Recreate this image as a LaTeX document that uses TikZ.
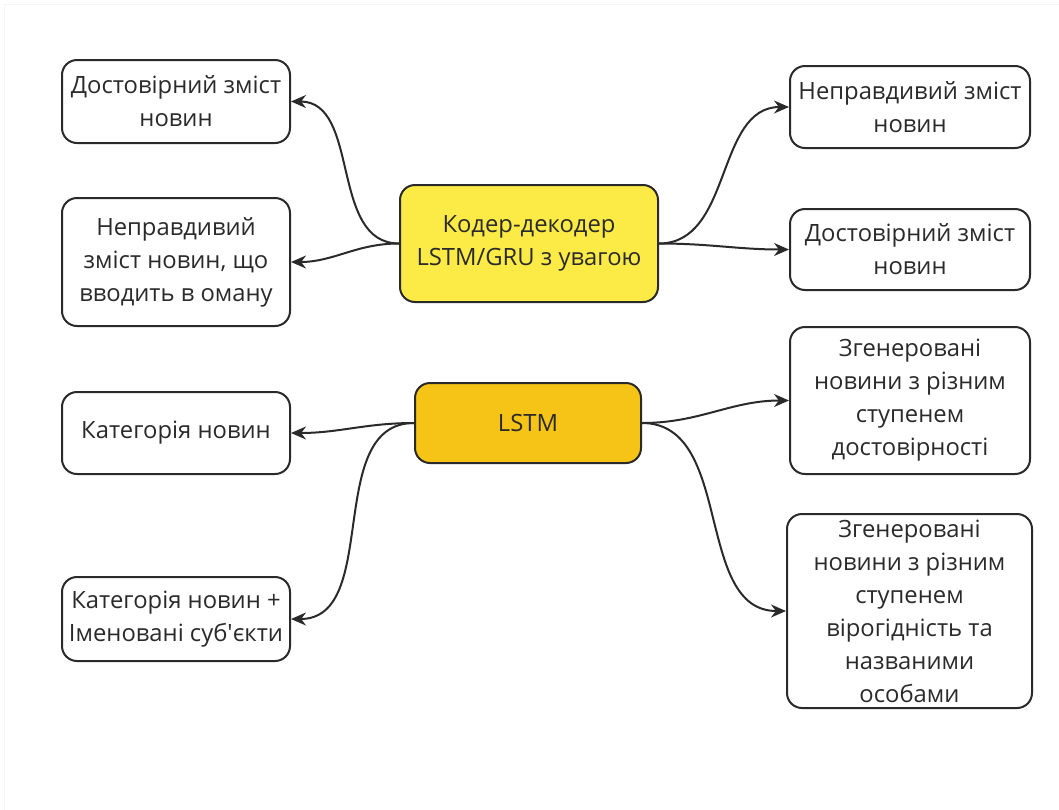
\documentclass[tikz,border=0pt]{standalone}
\usepackage{fontspec}
\setmainfont{Open Sans}
\usetikzlibrary{arrows.meta}
\definecolor{yel1}{HTML}{FCEB47}
\definecolor{yel2}{HTML}{F6C416}
\definecolor{ink}{HTML}{2A2A2A}
\tikzset{
  box/.style={draw=ink, line width=2pt, rounded corners=15pt, fill=white, align=center,
    inner sep=0pt, font=\fontsize{23.8}{33}\selectfont, text=ink},
  conn/.style={draw=ink, line width=2pt, -{Stealth[length=15pt,width=13pt]}},
}
\begin{document}
\begin{tikzpicture}[x=1pt,y=-1pt]
\useasboundingbox (0,0) rectangle (1059,809);
\draw[black!4, line width=1pt] (4,4) rectangle (1070,820);
% centre nodes
\node[box, fill=yel1, minimum width=258pt, minimum height=117pt] (enc) at (529,243.5) {Кодер-декодер\\LSTM/GRU з увагою};
\node[box, fill=yel2, minimum width=226pt, minimum height=80pt] (lstm) at (528,423) {LSTM};
% left nodes
\node[box, minimum width=228pt, minimum height=83pt] (l1) at (176,101.5) {Достовірний зміст\\новин};
\node[box, minimum width=228pt, minimum height=128pt] (l2) at (176,262) {Неправдивий\\зміст новин, що\\вводить в оману};
\node[box, minimum width=228pt, minimum height=82pt] (l3) at (176,433) {Категорія новин};
\node[box, minimum width=228pt, minimum height=84pt] (l4) at (176,619) {Категорія новин +\\Іменовані суб\textquotesingle єкти};
% right nodes
\node[box, minimum width=240pt, minimum height=82pt] (r1) at (910,107) {Неправдивий зміст\\новин};
\node[box, minimum width=240pt, minimum height=81pt] (r2) at (910,249.5) {Достовірний зміст\\новин};
\node[box, minimum width=240pt, minimum height=147pt] (r3) at (910,400.5) {Згенеровані\\новини з різним\\ступенем\\достовірності};
\node[box, minimum width=245pt, minimum height=194pt] (r4) at (909.5,611) {Згенеровані\\новини з різним\\ступенем\\вірогідність та\\названими\\особами};
% connectors
\draw[conn] (enc.west) to[out=180,in=0] (l1.east);
\draw[conn] (enc.west) to[out=180,in=0] (l2.east);
\draw[conn] (enc.east) to[out=0,in=180] (r1.west);
\draw[conn] (enc.east) to[out=0,in=180] (r2.west);
\draw[conn] (lstm.west) to[out=180,in=0] (l3.east);
\draw[conn] (lstm.west) to[out=180,in=0] (l4.east);
\draw[conn] (lstm.east) to[out=0,in=180] (r3.west);
\draw[conn] (lstm.east) to[out=0,in=180] (r4.west);
\end{tikzpicture}
\end{document}
